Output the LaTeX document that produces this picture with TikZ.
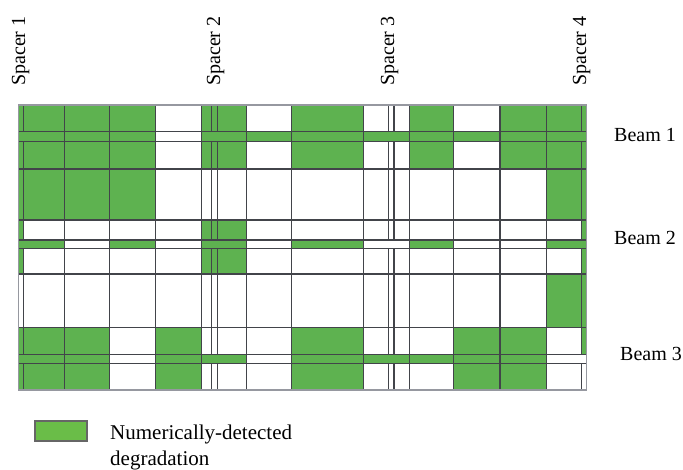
\documentclass[tikz,border=0pt]{standalone}
\usepackage{fontspec}
\setmainfont{Liberation Serif}
\definecolor{cellgreen}{RGB}{94,178,80}
\definecolor{keygreen}{RGB}{106,189,72}
\definecolor{gridgray}{RGB}{66,68,74}
\definecolor{rimgray}{RGB}{150,152,160}
\tikzset{
  gridline/.style={draw=gridgray, line width=1.25pt},
  rimline/.style={draw=rimgray, line width=1.3pt},
  lbl/.style={inner sep=0pt, font=\fontsize{20}{24}\selectfont},
  keylbl/.style={inner sep=0pt, anchor=base west, font=\fontsize{21}{25}\selectfont},
  spacerlbl/.style={lbl, rotate=90, anchor=base west},
  keybox/.style={fill=keygreen, draw=gray!80!black, line width=1.1pt}
}
% column boundaries of the grid (index 0..18)
\def\XS{{18.3,23.3,64.3,109.3,155.3,201.3,211.7,217.5,246.7,291.7,363.3,388.3,394,409.3,453.3,500,546.3,581.5,586.5}}
\begin{document}
\begin{tikzpicture}[x=1pt, y=-1pt]
\useasboundingbox (0,0) rectangle (683,469);

% degraded cells: row band / runs of columns (from boundary i to boundary j)
\foreach \ya/\yb/\runs in {
  105/131.7/{0/4,5/8,9/10,13/14,15/18},
  131.7/141.7/{0/4,5/18},
  141.7/169/{0/4,5/8,9/10,13/14,15/18},
  169/220/{0/4,16/18},
  220/240/{0/1,5/8,17/18},
  240/248.3/{0/2,3/4,5/8,9/10,13/14,16/18},
  248.3/274/{0/1,5/8,17/18},
  274/327.3/{16/18},
  327.3/354.3/{0/3,4/5,9/10,14/16,17/18},
  354.3/363.3/{0/3,4/8,9/16},
  363.3/390/{0/3,4/5,9/10,14/16}}
{
  \foreach \i/\j in \runs {
    \pgfmathsetmacro\xa{\XS[\i]}
    \pgfmathsetmacro\xb{\XS[\j]}
    \fill[cellgreen] (\xa,\ya) rectangle (\xb,\yb);
  }
}

% horizontal grid lines (beam strips included)
\foreach \y in {131.7,141.7,169,220,240,248.3,274,327.3,354.3,363.3}
  \draw[gridline] (18.3,\y) -- (586.5,\y);
% full-height column lines
\foreach \x in {64.3,109.3,155.3,201.3,246.7,291.7,363.3,409.3,453.3,500,546.3}
  \draw[gridline] (\x,105) -- (\x,390);
% spacer column lines, broken by the beam strips
\foreach \x in {23.3,211.7,217.5,388.3,394,581.5}
  \foreach \ya/\yb in {105/131.7,141.7/240,248.3/354.3,363.3/390}
    \draw[gridline] (\x,\ya) -- (\x,\yb);
% outer frame
\draw[rimline] (18.3,105) rectangle (586.5,390);

% spacer labels
\node[spacerlbl] (sp1) at (25,86) {Spacer 1};
\node[spacerlbl] (sp2) at (220,86) {Spacer 2};
\node[spacerlbl] (sp3) at (394,86) {Spacer 3};
\node[spacerlbl] (sp4) at (586,86) {Spacer 4};

% beam labels
\node[lbl, anchor=base west] (b1) at (614,141.5) {Beam 1};
\node[lbl, anchor=base west] (b2) at (614,244.5) {Beam 2};
\node[lbl, anchor=base west] (b3) at (620,360.5) {Beam 3};

% legend
\draw[keybox] (35,421) rectangle (87,441);
\node[keylbl] (key1) at (110,439) {Numerically-detected};
\node[keylbl] (key2) at (110,465) {degradation};
\end{tikzpicture}
\end{document}
